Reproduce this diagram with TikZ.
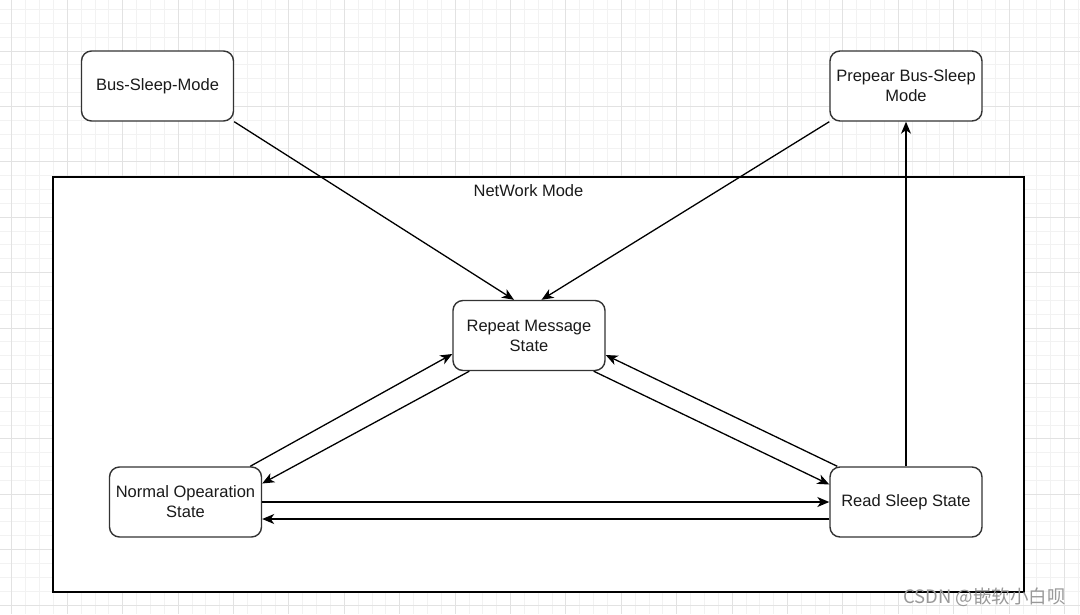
\documentclass[tikz,border=0pt]{standalone}
\usepackage{fontspec}
\setmainfont{Liberation Sans}
\newfontfamily\cjkfont{Noto Sans CJK SC}
\usetikzlibrary{arrows.meta,calc}
\definecolor{gridminor}{HTML}{F2F2F2}
\definecolor{gridmajor}{HTML}{E2E2E2}
\definecolor{boxline}{HTML}{333333}
\definecolor{txt}{HTML}{1A1A1A}
\tikzset{
  statebox/.style={draw=boxline, line width=1.4pt, fill=white, rounded corners=10pt,
    minimum width=152pt, minimum height=70pt, inner sep=0pt, align=center,
    text=txt, font=\fontsize{16.5}{20}\selectfont},
  conn/.style={draw=black, line width=1.3pt, -{Stealth[length=12pt,width=10pt,inset=3.5pt]}},
  gminor/.style={draw=gridminor, line width=0.9pt},
  gmajor/.style={draw=gridmajor, line width=0.9pt},
}
\begin{document}
\begin{tikzpicture}[x=1pt,y=-1pt]
\useasboundingbox (0,0) rectangle (1080,614);
\fill[white] (0,0) rectangle (1080,614);
% grid
\foreach \i in {0,...,78} { \draw[gminor] ({11.9+13.85*\i},0) -- ({11.9+13.85*\i},614); }
\foreach \i in {0,...,44} { \draw[gminor] (0,{9.45+13.85*\i}) -- (1080,{9.45+13.85*\i}); }
\foreach \i in {0,...,19} { \draw[gmajor] ({11.9+55.4*\i},0) -- ({11.9+55.4*\i},614); }
\foreach \i in {0,...,11} { \draw[gmajor] (0,{51+55.4*\i}) -- (1080,{51+55.4*\i}); }
% container
\node[draw=black, line width=1.4pt, fill=white, minimum width=971pt, minimum height=415pt, inner sep=0pt] (net) at (538.5,384.5) {};
\node[text=txt, font=\fontsize{16.5}{20}\selectfont, inner sep=0pt] (netlbl) at (528.5,190.5) {NetWork Mode};
% states
\node[statebox] (bus) at (157.5,86) {\raisebox{-1pt}{Bus-Sleep-Mode}};
\node[statebox] (prep) at (906,86) {Prepear Bus-Sleep\\Mode};
\node[statebox] (rep) at (529,335.5) {Repeat Message\\State};
\node[statebox] (nrm) at (185.5,502) {Normal Opearation\\State};
\node[statebox] (read) at (906,502) {\raisebox{-1pt}{Read Sleep State}};
% connectors
\draw[conn] (bus.south east) -- ($(rep.north)+(-15,0)$);
\draw[conn] (prep.south west) -- ($(rep.north)+(12.5,0)$);
\draw[conn] ($(nrm.north east)+(-12,0)$) -- ($(rep.west)+(0,18.5)$);
\draw[conn] ($(rep.south west)+(17,0)$) -- ($(nrm.east)+(0,-18.5)$);
\draw[conn] ($(read.north west)+(8,0)$) -- ($(rep.east)+(0,19.5)$);
\draw[conn] ($(rep.south east)+(-12,0)$) -- ($(read.west)+(0,-17.5)$);
\draw[conn] (nrm.east) -- (read.west);
\draw[conn] ($(read.west)+(0,17)$) -- ($(nrm.east)+(0,17)$);
\draw[conn] (read.north) -- (prep.south);
% watermark
\node[text=black!40, font=\cjkfont\fontsize{18.5}{22}\selectfont, inner sep=0pt, anchor=east] (wm) at (1066,597) {CSDN @嵌软小白呗};
\end{tikzpicture}
\end{document}
